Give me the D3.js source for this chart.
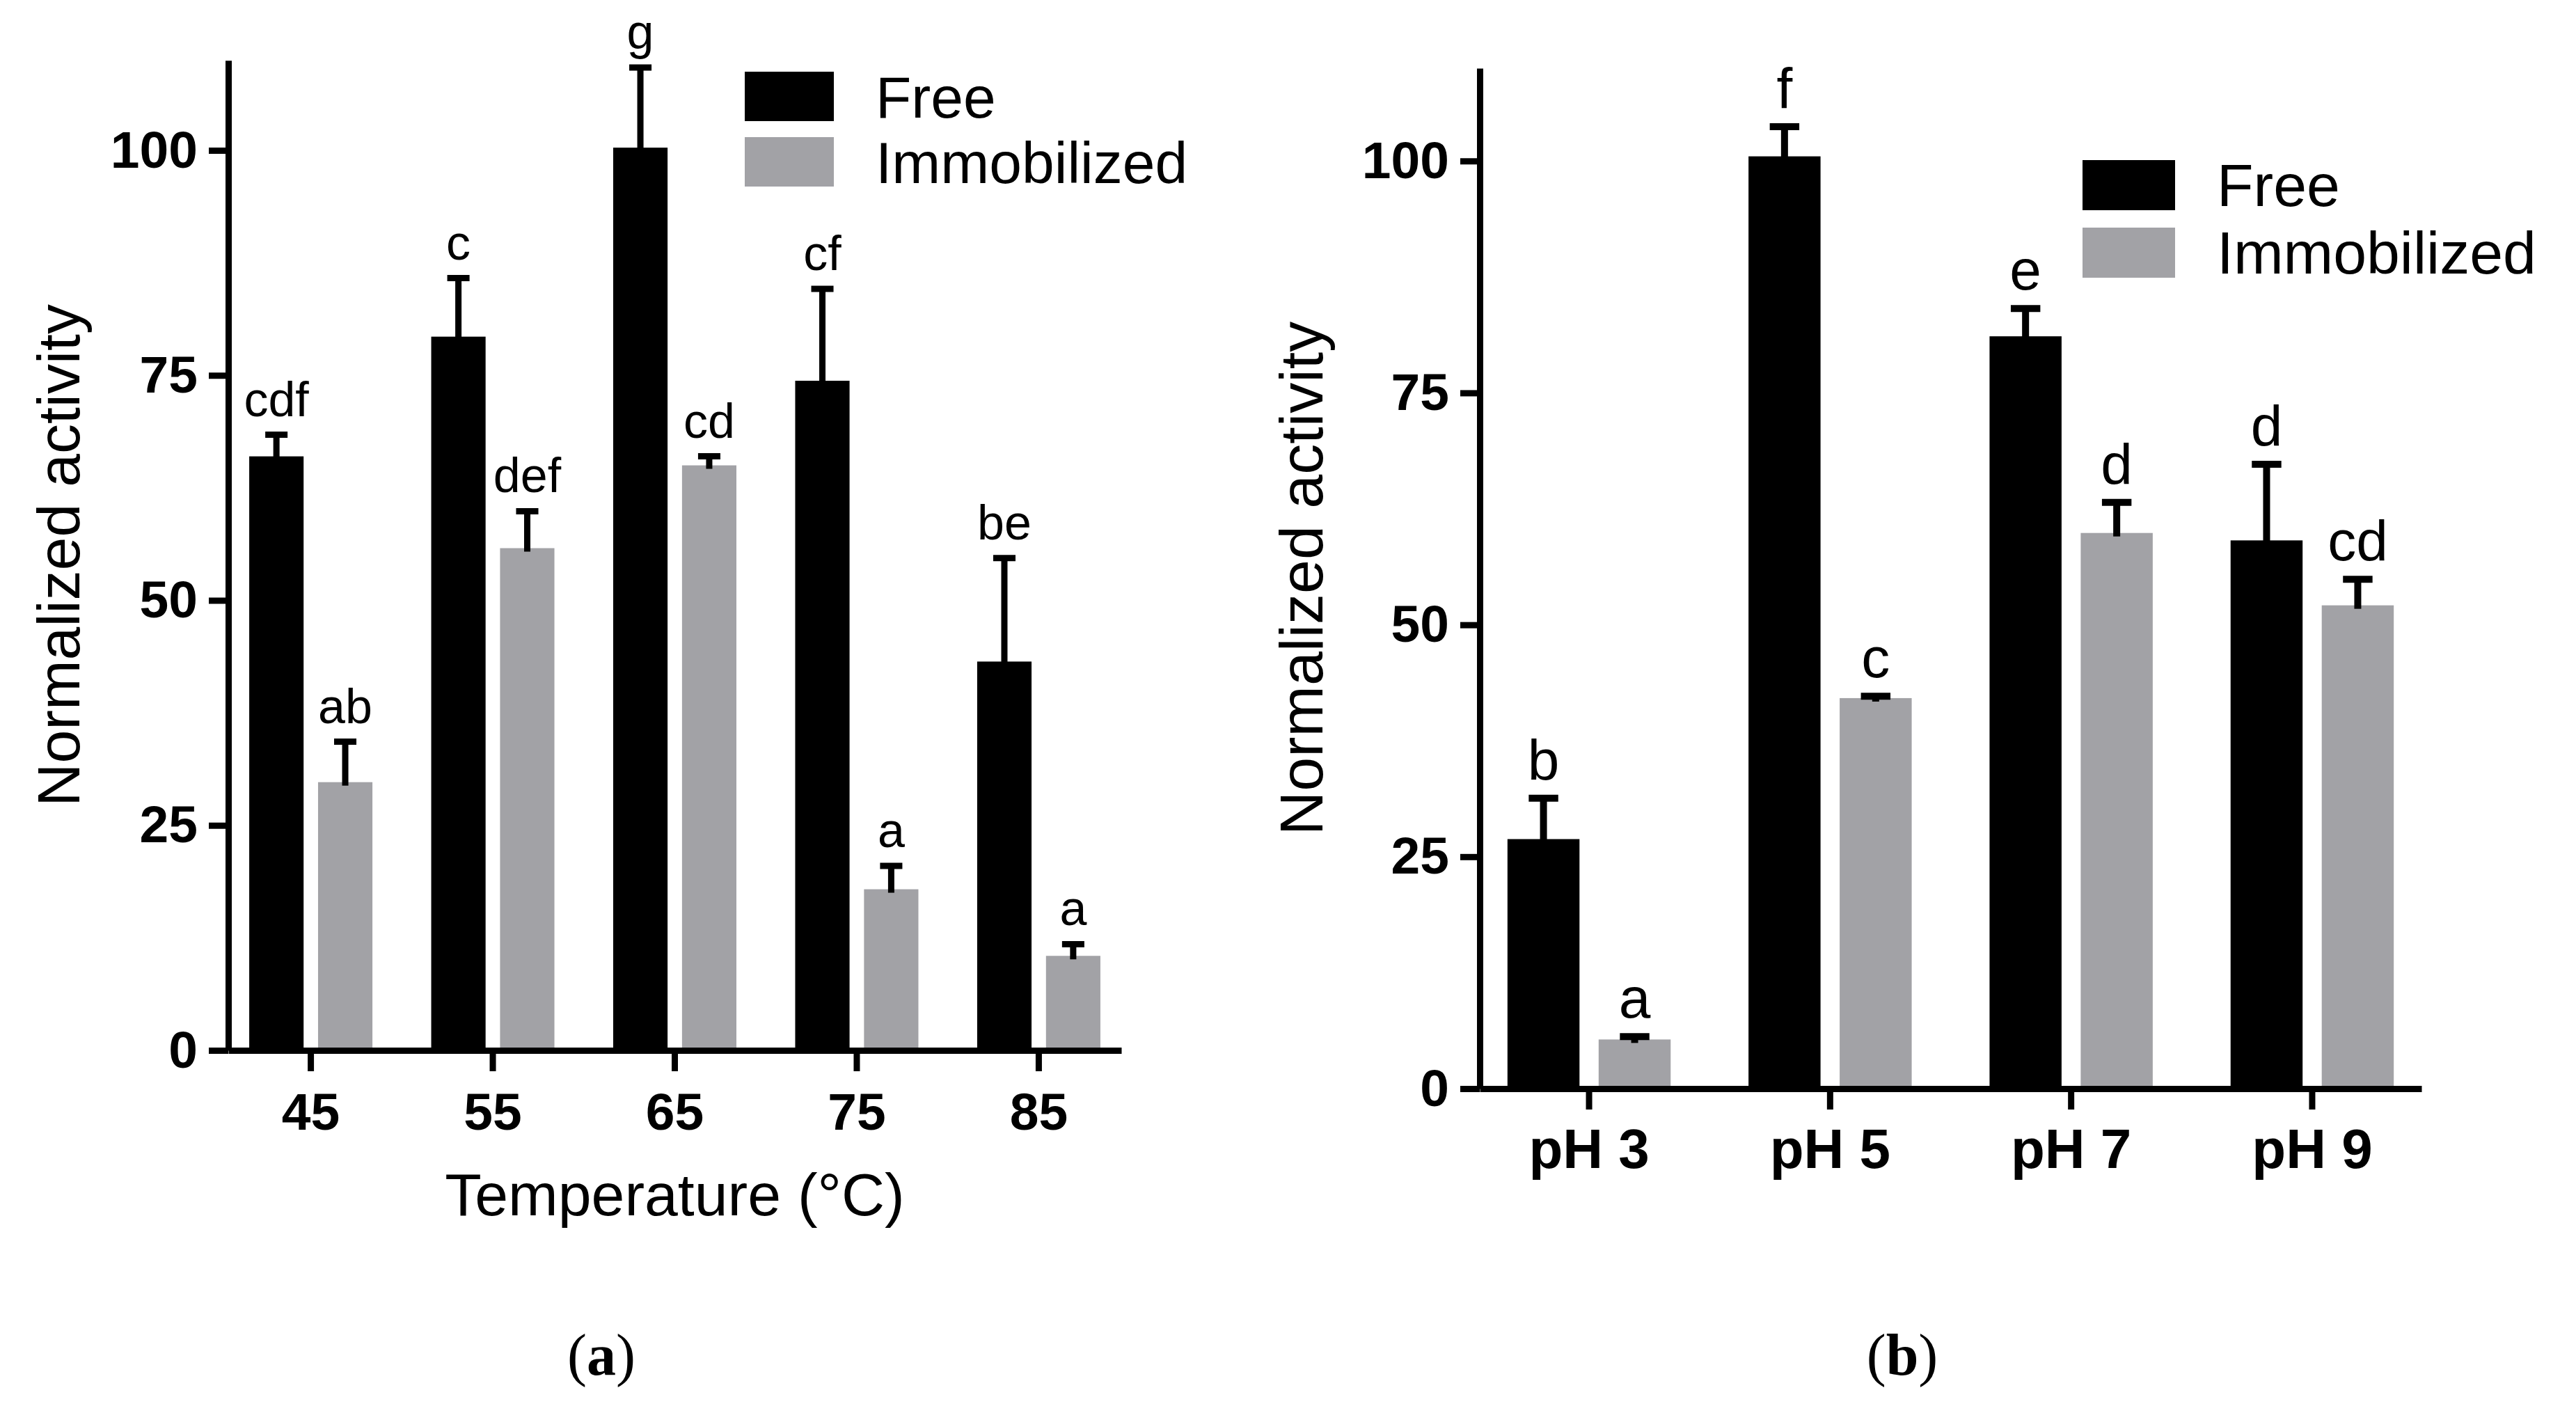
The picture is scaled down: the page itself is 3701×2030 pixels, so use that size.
<!DOCTYPE html>
<html>
<head>
<meta charset="utf-8">
<script src="https://cdn.jsdelivr.net/npm/d3@7"></script>
<style>
  body { margin: 0; background: #fff; }
  svg { display: block; }
</style>
</head>
<body>
<script>
// ---- data ----
const seriesNames = ["Free", "Immobilized"];
const yTicks = [0, 25, 50, 75, 100];

// (a) temperature
const tempCats = ["45", "55", "65", "75", "85"];
const tempFree = [66.0, 79.3, 100.3, 74.4, 43.2];
const tempFreeErr = [2.4, 6.5, 8.9, 10.2, 11.5];
const tempImmob = [29.8, 55.8, 65.0, 17.9, 10.5];
const tempImmobErr = [4.5, 4.1, 1.0, 2.6, 1.3];
const tempFreeLetters = ["cdf", "c", "g", "cf", "be"];
const tempImmobLetters = ["ab", "def", "cd", "a", "a"];

// (b) pH
const phCats = ["pH 3", "pH 5", "pH 7", "pH 9"];
const phFree = [26.9, 100.5, 81.1, 59.1];
const phFreeErr = [4.4, 3.2, 3.0, 8.2];
const phImmob = [5.3, 42.1, 59.9, 52.1];
const phImmobErr = [0.3, 0.2, 3.3, 2.8];
const phFreeLetters = ["b", "f", "e", "d"];
const phImmobLetters = ["a", "c", "d", "cd"];

const colors = { "Free": "#000000", "Immobilized": "#a2a2a6" };
const sans = "'Liberation Sans', Arial, Helvetica, sans-serif";
const serif = "'Liberation Serif', 'Times New Roman', serif";

const svg = d3.select("body")
  .append("svg")
  .attr("width", 3701)
  .attr("height", 2030);

svg.append("rect").attr("width", 3701).attr("height", 2030).attr("fill", "#fff");

function drawPanel(p) {
  const g = svg.append("g");

  const x = d3.scaleBand()
    .domain(p.cats)
    .range([p.left, p.right])
    .paddingInner(0.323)
    .paddingOuter(0.115);

  const sub = d3.scaleBand()
    .domain(seriesNames)
    .range([0, x.bandwidth()])
    .paddingInner(0.21);

  const y = d3.scaleLinear()
    .domain([0, 110])
    .range([p.bottom, p.top]);

  // one row per bar
  const rows = p.cats.flatMap((c, i) => [
    { cat: c, s: "Free", v: p.free[i], e: p.freeErr[i], lab: p.freeLetters[i] },
    { cat: c, s: "Immobilized", v: p.immob[i], e: p.immobErr[i], lab: p.immobLetters[i] }
  ]);
  const cx = (d) => x(d.cat) + sub(d.s) + sub.bandwidth() / 2;

  // bars
  g.selectAll(".bar")
    .data(rows)
    .enter()
    .append("rect")
    .attr("class", "bar")
    .attr("x", (d) => x(d.cat) + sub(d.s))
    .attr("y", (d) => y(d.v))
    .attr("width", sub.bandwidth())
    .attr("height", (d) => y(0) - y(d.v))
    .attr("fill", (d) => colors[d.s]);

  // error bars (upper only)
  g.selectAll(".err")
    .data(rows)
    .enter()
    .append("line")
    .attr("class", "err")
    .attr("x1", cx)
    .attr("x2", cx)
    .attr("y1", (d) => y(d.v) + 5)
    .attr("y2", (d) => y(d.v + d.e))
    .attr("stroke", "#000")
    .attr("stroke-width", p.errWidth);

  const capW = sub.bandwidth() * 0.41;
  g.selectAll(".cap")
    .data(rows)
    .enter()
    .append("line")
    .attr("class", "cap")
    .attr("x1", (d) => cx(d) - capW / 2)
    .attr("x2", (d) => cx(d) + capW / 2)
    .attr("y1", (d) => y(d.v + d.e))
    .attr("y2", (d) => y(d.v + d.e))
    .attr("stroke", "#000")
    .attr("stroke-width", p.errWidth);

  // significance letters
  g.selectAll(".letter")
    .data(rows)
    .enter()
    .append("text")
    .attr("class", "letter")
    .attr("x", cx)
    .attr("y", (d) => y(d.v + d.e) - p.letterGap)
    .attr("text-anchor", "middle")
    .attr("font-family", sans)
    .attr("font-size", p.letterSize)
    .text((d) => d.lab);

  // axes
  const yAxis = g.append("g")
    .attr("transform", `translate(${p.left},0)`)
    .call(d3.axisLeft(y).tickValues(yTicks).tickSize(28).tickSizeOuter(0).tickPadding(16));

  const xAxis = g.append("g")
    .attr("transform", `translate(0,${y(0)})`)
    .call(d3.axisBottom(x).tickSize(30).tickSizeOuter(0).tickPadding(p.xPad));

  [yAxis, xAxis].forEach((a) => {
    a.select(".domain").attr("stroke-width", 9).attr("stroke", "#000");
    a.selectAll(".tick line").attr("stroke-width", 9).attr("stroke", "#000");
    a.selectAll(".tick text")
      .attr("font-family", sans)
      .attr("font-weight", "bold")
      .attr("fill", "#000");
  });
  yAxis.selectAll(".tick text").attr("font-size", 75);
  xAxis.selectAll(".tick text").attr("font-size", p.xTickSize);

  // y axis title
  g.append("text")
    .attr("transform", `translate(${p.yTitleX},${(p.top + p.bottom) / 2}) rotate(-90)`)
    .attr("text-anchor", "middle")
    .attr("font-family", sans)
    .attr("font-size", p.yTitleSize)
    .text("Normalized activity");

  // x axis title
  if (p.xTitle) {
    g.append("text")
      .attr("x", (p.left + p.right) / 2)
      .attr("y", p.xTitleY)
      .attr("text-anchor", "middle")
      .attr("font-family", sans)
      .attr("font-size", 86)
      .text(p.xTitle);
  }

  // legend
  const leg = g.selectAll(".legend")
    .data(seriesNames)
    .enter()
    .append("g")
    .attr("class", "legend")
    .attr("transform", (d, i) => `translate(${p.legX},${p.legY + i * p.legStep})`);

  leg.append("rect")
    .attr("width", p.legW)
    .attr("height", p.legH)
    .attr("fill", (d) => colors[d]);

  leg.append("text")
    .attr("x", p.legW + 60)
    .attr("y", p.legH / 2 + 30)
    .attr("font-family", sans)
    .attr("font-size", p.legSize)
    .text((d) => d);

  // panel label
  const lab = g.append("text")
    .attr("x", p.panelX)
    .attr("y", 1975)
    .attr("text-anchor", "middle")
    .attr("font-family", serif)
    .attr("font-size", 84);
  lab.append("tspan").text("(");
  lab.append("tspan").attr("font-weight", "bold").text(p.panel);
  lab.append("tspan").text(")");
}

drawPanel({
  cats: tempCats,
  free: tempFree, freeErr: tempFreeErr,
  immob: tempImmob, immobErr: tempImmobErr,
  freeLetters: tempFreeLetters, immobLetters: tempImmobLetters,
  left: 328, right: 1611, top: 86.7, bottom: 1509,
  errWidth: 9, letterGap: 27, letterSize: 70,
  xPad: 31, xTickSize: 75,
  yTitleX: 114, yTitleSize: 86,
  xTitle: "Temperature (\u00B0C)", xTitleY: 1746,
  legX: 1070, legY: 103, legStep: 94, legW: 128, legH: 71, legSize: 84,
  panelX: 864, panel: "a"
});

drawPanel({
  cats: phCats,
  free: phFree, freeErr: phFreeErr,
  immob: phImmob, immobErr: phImmobErr,
  freeLetters: phFreeLetters, immobLetters: phImmobLetters,
  left: 2126, right: 3479, top: 98, bottom: 1564,
  errWidth: 10, letterGap: 27, letterSize: 82,
  xPad: 27, xTickSize: 80,
  yTitleX: 1900, yTitleSize: 88,
  xTitle: null,
  legX: 2992, legY: 230, legStep: 97, legW: 133, legH: 72, legSize: 86,
  panelX: 2733, panel: "b"
});
</script>
</body>
</html>
